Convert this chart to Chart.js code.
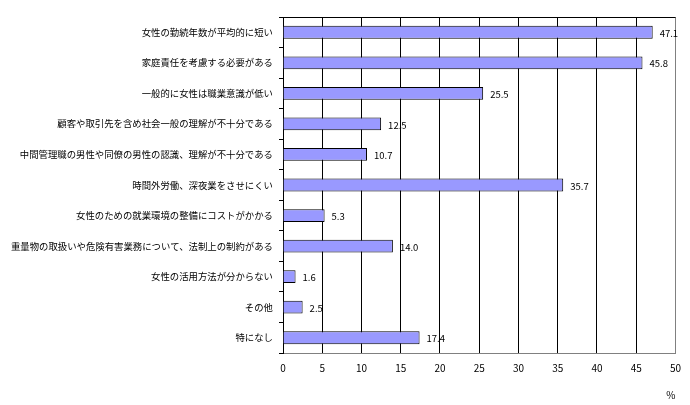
<!DOCTYPE html>
<html>
<head>
<meta charset="utf-8">
<script src="https://cdn.jsdelivr.net/npm/chart.js@4/dist/chart.umd.min.js"></script>
<style>
  html, body { margin: 0; padding: 0; background: #fff; }
  #wrap { width: 690px; height: 405px; position: relative; }
</style>
</head>
<body>
<div id="wrap"><canvas id="c"></canvas></div>
<script>
var categories = [
    '女性の勤続年数が平均的に短い',
    '家庭責任を考慮する必要がある',
    '一般的に女性は職業意識が低い',
    '顧客や取引先を含め社会一般の理解が不十分である',
    '中間管理職の男性や同僚の男性の認識、理解が不十分である',
    '時間外労働、深夜業をさせにくい',
    '女性のための就業環境の整備にコストがかかる',
    '重量物の取扱いや危険有害業務について、法制上の制約がある',
    '女性の活用方法が分からない',
    'その他',
    '特になし'
];
var values = [47.1, 45.8, 25.5, 12.5, 10.7, 35.7, 5.3, 14.0, 1.6, 2.5, 17.4];
var xMin = 0, xMax = 50, xStep = 5;
var unitLabel = '%';

var FONT = '"Noto Sans CJK JP", "DejaVu Sans", sans-serif';

// value labels right of each bar + black top border of the plot area
var extras = {
    id: 'extras',
    afterDatasetsDraw: function(chart) {
        var ctx = chart.ctx;
        var meta = chart.getDatasetMeta(0);
        ctx.save();
        ctx.font = '9.5px ' + FONT;
        ctx.fillStyle = '#000';
        ctx.textAlign = 'left';
        ctx.textBaseline = 'middle';
        meta.data.forEach(function(bar, i) {
            ctx.fillText(values[i].toFixed(1), bar.x + 7, bar.y + 1);
        });
        var a = chart.chartArea;
        ctx.strokeStyle = '#000';
        ctx.lineWidth = 1;
        ctx.beginPath();
        ctx.moveTo(a.left, Math.round(a.top) + 0.5);
        ctx.lineTo(a.right, Math.round(a.top) + 0.5);
        ctx.stroke();
        ctx.restore();
    }
};

new Chart(document.getElementById('c'), {
    type: 'bar',
    data: {
        labels: categories,
        datasets: [{
            data: values,
            backgroundColor: '#9999ff',
            borderColor: '#000',
            borderWidth: 1,
            barPercentage: 0.42,
            categoryPercentage: 1
        }]
    },
    options: {
        indexAxis: 'y',
        responsive: true, maintainAspectRatio: false,
        animation: false,
        layout: { padding: { top: 17, right: 12, left: 0, bottom: 0 } },
        plugins: { legend: { display: false }, tooltip: { enabled: false } },
        scales: {
            x: {
                min: xMin, max: xMax,
                ticks: { stepSize: xStep, padding: 9, color: '#000', font: { family: FONT, size: 10 } },
                grid: {
                    drawTicks: false,
                    color: function(c) { return c.tick && c.tick.value === xMax ? '#808080' : '#000'; }
                },
                border: { color: '#808080' },
                title: { display: true, text: unitLabel, align: 'end', color: '#000', padding: { top: 0, bottom: 4 }, font: { family: FONT, size: 10 } },
                afterFit: function(s) { s.height = 52; }
            },
            y: {
                ticks: { padding: 6, color: '#000', font: { family: FONT, size: 9.4 } },
                grid: { drawOnChartArea: false, drawTicks: true, tickLength: 4, color: '#000', offset: true },
                border: { color: '#000' },
                afterFit: function(s) { s.width = 283; }
            }
        }
    },
    plugins: [extras]
});
</script>
</body>
</html>
